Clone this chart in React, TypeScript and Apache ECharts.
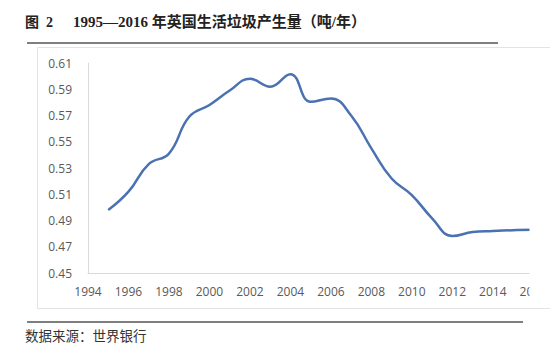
import React, { useEffect, useRef } from "react";
import * as echarts from "echarts";

const years = [1995, 1996, 1997, 1998, 1999, 2000, 2001, 2002, 2003, 2004, 2005, 2006, 2007, 2008, 2009, 2010, 2011, 2012, 2013, 2014, 2015, 2016];
const values = [0.498, 0.512, 0.533, 0.541, 0.569, 0.578, 0.589, 0.598, 0.592, 0.6015, 0.5805, 0.583, 0.570, 0.545, 0.522, 0.5094, 0.4917, 0.4782, 0.4812, 0.482, 0.4826, 0.483];
const titleFigure = "图  2";
const titleText = "1995—2016 年英国生活垃圾产生量（吨/年）";
const sourceText = "数据来源：世界银行";

export default function App() {
  const ref = useRef<HTMLDivElement>(null);
  useEffect(() => {
    if (!ref.current) return;
    const chart = echarts.init(ref.current, null, { renderer: "svg" });
    const labelColor = "#595959";
    chart.setOption({
      animation: false,
      backgroundColor: "#ffffff",
      grid: { left: 88, right: 12, top: 63, bottom: 80, containLabel: false },
      xAxis: {
        type: "value",
        min: 1994,
        max: 2016,
        interval: 2,
        axisLine: { show: true, lineStyle: { color: "#d9d9d9", width: 1 } },
        axisTick: { show: false },
        splitLine: { show: false },
        axisLabel: {
          color: labelColor,
          fontSize: 12,
          fontFamily: "Open Sans",
          margin: 12,
          formatter: (v: number) => String(v),
        },
      },
      yAxis: {
        type: "value",
        min: 0.45,
        max: 0.61,
        interval: 0.02,
        axisLine: { show: true, lineStyle: { color: "#d9d9d9", width: 1 } },
        axisTick: { show: false },
        splitLine: { show: false },
        axisLabel: {
          color: labelColor,
          fontSize: 12,
          fontFamily: "Open Sans",
          margin: 16,
          formatter: (v: number) => v.toFixed(2),
        },
      },
      series: [
        {
          type: "line",
          data: years.map((y, i) => [y, values[i]]),
          smooth: 0.45,
          showSymbol: false,
          lineStyle: { color: "#4a72b2", width: 2.5 },
        },
      ],
      graphic: [
        {
          type: "rect",
          z: 50,
          shape: { x: 529.5, y: 40, width: 30, height: 278 },
          style: { fill: "#ffffff" },
        },
        {
          type: "rect",
          z: 60,
          shape: { x: 37.5, y: 47.5, width: 560, height: 261 },
          style: { fill: "none", stroke: "#e3e3e3", lineWidth: 1 },
        },
        {
          type: "text",
          z: 60,
          x: 25,
          y: 22,
          style: {
            text: titleFigure,
            fontSize: 14,
            fontWeight: "bold",
            fontFamily: "Liberation Serif, Noto Sans CJK SC",
            fill: "#222",
            verticalAlign: "middle",
          },
        },
        {
          type: "text",
          z: 60,
          x: 73,
          y: 22,
          style: {
            text: titleText,
            fontSize: 15,
            fontWeight: "bold",
            fontFamily: "Liberation Serif, Noto Sans CJK SC",
            fill: "#222",
            verticalAlign: "middle",
          },
        },
        {
          type: "line",
          z: 60,
          shape: { x1: 27, y1: 43, x2: 498, y2: 43 },
          style: { stroke: "#555", lineWidth: 1.5 },
        },
        {
          type: "line",
          z: 60,
          shape: { x1: 27, y1: 322, x2: 523, y2: 322 },
          style: { stroke: "#555", lineWidth: 1.5 },
        },
        {
          type: "text",
          z: 60,
          x: 25,
          y: 335,
          style: {
            text: sourceText,
            fontSize: 13.5,
            fontFamily: "Noto Sans CJK SC",
            fill: "#333",
            verticalAlign: "middle",
          },
        },
      ],
    });
    return () => chart.dispose();
  }, []);
  return (
    <div
      ref={ref}
      style={{ position: "absolute", left: 0, top: 0, width: 550, height: 353 }}
    />
  );
}
